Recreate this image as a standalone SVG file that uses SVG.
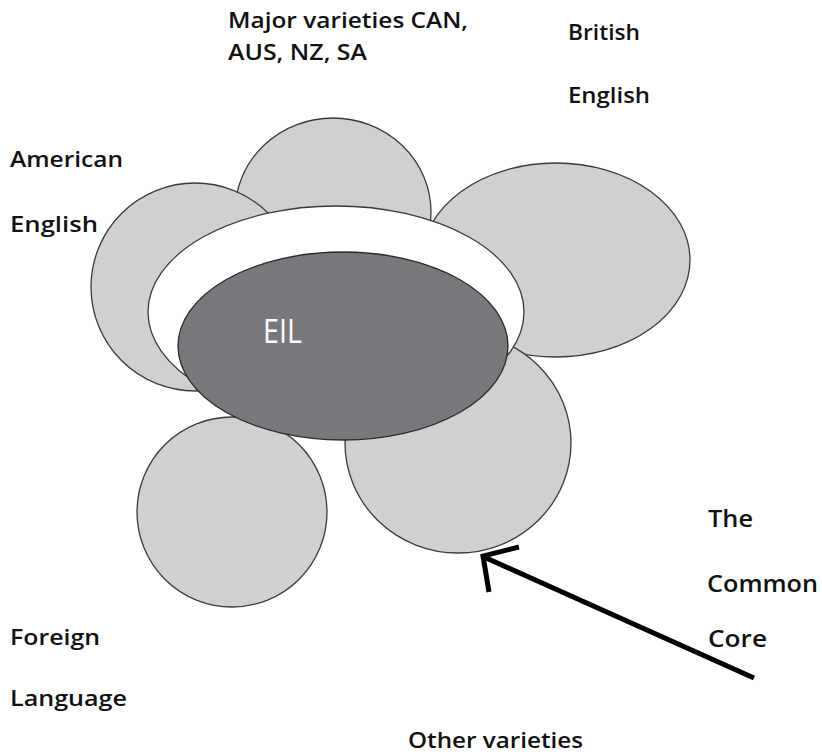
<svg xmlns="http://www.w3.org/2000/svg" width="822" height="755" viewBox="0 0 822 755">
<style>
.petal{fill:#cfd0d2;stroke:#3a3a3a;stroke-width:1.3}
.lbl{font-family:"Open Sans","Liberation Sans",sans-serif;font-size:22px;font-weight:600;fill:#111}
.big{font-size:23px}
.conn{stroke:#000;stroke-width:5;fill:none;stroke-linecap:butt}
</style>
<rect width="822" height="755" fill="#fff"/>
<g id="major-varieties"><ellipse class="petal" cx="333" cy="212" rx="98" ry="94"/></g>
<g id="american-english"><circle class="petal" cx="195" cy="287" r="104"/></g>
<g id="british-english"><ellipse class="petal" cx="556" cy="260" rx="134" ry="97"/></g>
<g id="foreign-language"><circle class="petal" cx="232" cy="512" r="95"/></g>
<g id="other-varieties"><ellipse class="petal" cx="458" cy="443" rx="113" ry="110"/></g>
<g id="common-core"><ellipse cx="336" cy="312" rx="188" ry="106" fill="#fff" stroke="#3a3a3a" stroke-width="1.3"/></g>
<g id="eil">
<ellipse cx="343" cy="346" rx="165" ry="94" fill="#77787c" stroke="#2a2a2a" stroke-width="1.3"/>
<text x="263" y="343" font-family="'Open Sans','Liberation Sans',sans-serif" font-size="32" font-weight="500" fill="#fff" textLength="39" lengthAdjust="spacingAndGlyphs">EIL</text>
</g>
<g id="connectors">
<line class="conn" x1="754" y1="678" x2="484" y2="557"/>
<polyline class="conn" points="519,547 483,556 489,592"/>
</g>
<g id="labels">
<text class="lbl" x="228" y="28" textLength="240" lengthAdjust="spacingAndGlyphs">Major varieties CAN,</text>
<text class="lbl" x="228" y="60" font-weight="500" textLength="139" lengthAdjust="spacingAndGlyphs">AUS, NZ, SA</text>
<text class="lbl" x="568" y="40" textLength="72" lengthAdjust="spacingAndGlyphs">British</text>
<text class="lbl" x="568" y="103" textLength="82" lengthAdjust="spacingAndGlyphs">English</text>
<text class="lbl" x="10" y="167" textLength="113" lengthAdjust="spacingAndGlyphs">American</text>
<text class="lbl" x="10" y="232" textLength="88" lengthAdjust="spacingAndGlyphs">English</text>
<text class="lbl big" x="708" y="527" textLength="45" lengthAdjust="spacingAndGlyphs">The</text>
<text class="lbl big" x="707" y="592" textLength="111" lengthAdjust="spacingAndGlyphs">Common</text>
<text class="lbl big" x="708" y="647" textLength="59" lengthAdjust="spacingAndGlyphs">Core</text>
<text class="lbl" x="10" y="645" textLength="90" lengthAdjust="spacingAndGlyphs">Foreign</text>
<text class="lbl" x="10" y="706" textLength="117" lengthAdjust="spacingAndGlyphs">Language</text>
<text class="lbl" x="408" y="748" textLength="175" lengthAdjust="spacingAndGlyphs">Other varieties</text>
</g>
</svg>
